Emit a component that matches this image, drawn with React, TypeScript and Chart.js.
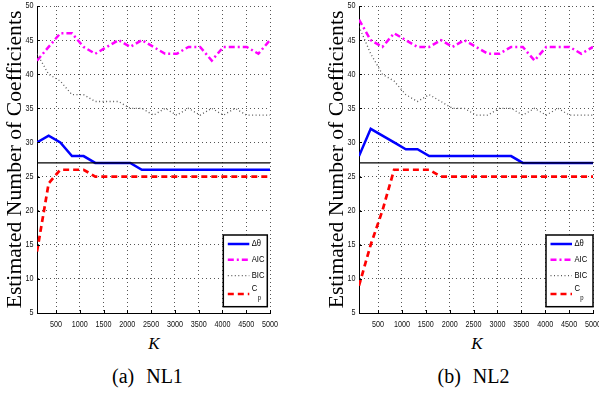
import React, { useEffect, useRef } from 'react';
import { Chart, registerables } from 'chart.js';

Chart.register(...registerables);

// ---- data ----
const K_VALUES = [100, 345, 590, 835, 1080, 1325, 1570, 1815, 2060, 2305, 2550, 2795, 3040, 3285, 3530, 3775, 4020, 4265, 4510, 4755, 5000];
const X_TICKS = [500, 1000, 1500, 2000, 2500, 3000, 3500, 4000, 4500, 5000];
const Y_TICKS = [5, 10, 15, 20, 25, 30, 35, 40, 45, 50];
const TRUE_COEFFS = 27;

const LABELS = ['Δθ', 'AIC', 'BIC', 'C_p'];

const NL1_DTHETA = [30, 31, 30, 28, 28, 27, 27, 27, 27, 26, 26, 26, 26, 26, 26, 26, 26, 26, 26, 26, 26];
const NL1_AIC = [42, 44, 46, 46, 44, 43, 44, 45, 44, 45, 44, 43, 43, 44, 44, 42, 44, 44, 44, 43, 45];
const NL1_BIC = [43, 40, 39, 37, 37, 36, 36, 36, 35, 35, 34, 35, 34, 35, 34, 35, 34, 35, 34, 34, 34];
const NL1_CP = [14, 24, 26, 26, 26, 25, 25, 25, 25, 25, 25, 25, 25, 25, 25, 25, 25, 25, 25, 25, 25];

const NL2_DTHETA = [28, 32, 31, 30, 29, 29, 28, 28, 28, 28, 28, 28, 28, 28, 27, 27, 27, 27, 27, 27, 27];
const NL2_AIC = [48, 45, 44, 46, 45, 44, 44, 45, 44, 45, 44, 43, 43, 44, 44, 42, 44, 44, 44, 43, 44];
const NL2_BIC = [47, 43, 40, 39, 37, 36, 37, 36, 35, 35, 34, 34, 35, 35, 34, 35, 34, 35, 34, 34, 34];
const NL2_CP = [9, 15, 20, 26, 26, 26, 26, 25, 25, 25, 25, 25, 25, 25, 25, 25, 25, 25, 25, 25, 25];

const Y_TITLE = 'Estimated Number of Coefficients';
const X_TITLE = 'K';
const CAPTION_A = ['(a)', 'NL1'];
const CAPTION_B = ['(b)', 'NL2'];

const TICK_FONT = "'Liberation Sans', Arial, sans-serif";
const SERIF = "'Liberation Serif', 'Times New Roman', serif";

type Box = { x: number; y: number; w: number; h: number };

const inwardTicks = {
  id: 'inwardTicks',
  afterDatasetsDraw(chart: any) {
    const { ctx, chartArea: ca, scales } = chart;
    ctx.save();
    ctx.strokeStyle = '#000';
    ctx.lineWidth = 1;
    ctx.setLineDash([]);
    ctx.beginPath();
    X_TICKS.forEach((v) => {
      const x = Math.round(scales.x.getPixelForValue(v)) + 0.5;
      ctx.moveTo(x, ca.bottom);
      ctx.lineTo(x, ca.bottom - 3);
    });
    Y_TICKS.forEach((v) => {
      const y = Math.round(scales.y.getPixelForValue(v)) + 0.5;
      ctx.moveTo(ca.left, y);
      ctx.lineTo(ca.left + 3, y);
    });
    ctx.stroke();
    ctx.restore();
  },
};

// narrow (horizontally compressed) tick labels, like the MATLAB figure
const tickLabels = {
  id: 'tickLabels',
  afterDraw(chart: any) {
    const { ctx, chartArea: ca, scales } = chart;
    const sx = 0.8;
    ctx.save();
    ctx.fillStyle = '#111';
    ctx.font = `9px ${TICK_FONT}`;
    ctx.textBaseline = 'middle';
    X_TICKS.forEach((v) => {
      const x = scales.x.getPixelForValue(v);
      ctx.save();
      ctx.translate(x, ca.bottom + 12);
      ctx.scale(sx, 1);
      ctx.textAlign = 'center';
      ctx.fillText(String(v), 0, 0);
      ctx.restore();
    });
    Y_TICKS.forEach((v) => {
      const y = scales.y.getPixelForValue(v);
      ctx.save();
      ctx.translate(ca.left - 3.4, y);
      ctx.scale(sx, 1);
      ctx.textAlign = 'right';
      ctx.fillText(String(v), 0, 0);
      ctx.restore();
    });
    ctx.restore();
  },
};

function makeLegend(box: Box) {
  return {
    id: 'boxLegend',
    afterDraw(chart: any) {
      const ctx = chart.ctx;
      ctx.save();
      ctx.setLineDash([]);
      ctx.fillStyle = '#fff';
      ctx.fillRect(box.x, box.y, box.w, box.h);
      ctx.strokeStyle = '#000';
      ctx.lineWidth = 1.5;
      ctx.strokeRect(box.x, box.y, box.w, box.h);
      const rows = [9, 24.7, 40.7, 59];
      const entries = chart.data.datasets.filter((d: any) => !d.hideInLegend);
      entries.forEach((ds: any, i: number) => {
        const y = box.y + rows[i];
        ctx.beginPath();
        ctx.strokeStyle = ds.borderColor;
        ctx.lineWidth = ds.borderWidth;
        ctx.setLineDash(ds.borderDash || []);
        ctx.moveTo(box.x + 4.5, y);
        ctx.lineTo(box.x + 26, y);
        ctx.stroke();
        ctx.setLineDash([]);
        ctx.fillStyle = '#000';
        ctx.textAlign = 'left';
        ctx.textBaseline = 'middle';
        const tx = box.x + 28.4;
        const [main, sub] = String(ds.label).split('_');
        ctx.save();
        ctx.translate(tx, y);
        ctx.scale(0.85, 1);
        ctx.font = `9px ${TICK_FONT}`;
        if (sub) {
          ctx.fillText(main, 0, -5.7);
          const w = ctx.measureText(main).width;
          ctx.font = `7px ${TICK_FONT}`;
          ctx.fillText(sub, w + 0.5, 4.3);
        } else {
          ctx.fillText(main, 0, 0);
        }
        ctx.restore();
      });
      ctx.restore();
    },
  };
}

type PanelProps = {
  dtheta: number[];
  aic: number[];
  bic: number[];
  cp: number[];
  left: number;
  width: number;
  rightPad: number;
  legendBox: Box;
};

const CANVAS_H = 330;

function Panel({ dtheta, aic, bic, cp, left, width, rightPad, legendBox }: PanelProps) {
  const ref = useRef<HTMLCanvasElement>(null);
  useEffect(() => {
    const canvas = ref.current!;
    const toXY = (arr: number[]) => K_VALUES.map((k, i) => ({ x: k, y: arr[i] }));
    const datasets: any[] = [
      { label: LABELS[0], data: toXY(dtheta), borderColor: '#0000ff', borderWidth: 2.5, borderDash: [], order: 4 },
      { label: LABELS[1], data: toXY(aic), borderColor: '#ff00ff', borderWidth: 2.5, borderDash: [6, 3, 2, 3], order: 3 },
      { label: LABELS[2], data: toXY(bic), borderColor: '#5a5a5a', borderWidth: 1.3, borderDash: [1, 2.5], order: 2 },
      { label: LABELS[3], data: toXY(cp), borderColor: '#ff0000', borderWidth: 2.7, borderDash: [6, 4], order: 1 },
      {
        label: 'true',
        hideInLegend: true,
        data: [
          { x: K_VALUES[0], y: TRUE_COEFFS },
          { x: K_VALUES[K_VALUES.length - 1], y: TRUE_COEFFS },
        ],
        borderColor: '#000000',
        borderWidth: 1.3,
        borderDash: [],
        order: 0,
      },
    ];
    const chart = new Chart(canvas, {
      type: 'line',
      data: { datasets },
      options: {
        responsive: false,
        maintainAspectRatio: false,
        animation: false,
        devicePixelRatio: 1,
        layout: { padding: { left: 0, top: 6, right: rightPad, bottom: 0 } },
        elements: { point: { radius: 0 }, line: { tension: 0, fill: false } },
        plugins: { legend: { display: false }, tooltip: { enabled: false } },
        scales: {
          x: {
            type: 'linear',
            min: 100,
            max: 5000,
            afterBuildTicks: (s: any) => {
              s.ticks = X_TICKS.map((v) => ({ value: v }));
            },
            afterFit: (s: any) => {
              s.height = CANVAS_H - 313;
              s.paddingLeft = 0;
              s.paddingRight = 0;
            },
            grid: { color: '#555', lineWidth: 1, drawTicks: false },
            border: { display: true, color: '#000', width: 1, dash: [1, 3] },
            ticks: { display: false },
          },
          y: {
            type: 'linear',
            min: 5,
            max: 50,
            afterBuildTicks: (s: any) => {
              s.ticks = Y_TICKS.map((v) => ({ value: v }));
            },
            afterFit: (s: any) => {
              s.width = 37;
              s.paddingTop = 0;
              s.paddingBottom = 0;
            },
            grid: { color: '#555', lineWidth: 1, drawTicks: false },
            border: { display: true, color: '#000', width: 1, dash: [1, 3] },
            ticks: { display: false },
            title: {
              display: true,
              text: Y_TITLE,
              color: '#000',
              font: { family: SERIF, size: 21.7 },
              padding: { top: 2, bottom: 0 },
            },
          },
        },
      },
      plugins: [inwardTicks, tickLabels, makeLegend(legendBox)],
    } as any);
    return () => chart.destroy();
  }, []);
  return (
    <canvas
      ref={ref}
      width={width}
      height={CANVAS_H}
      style={{ position: 'absolute', left, top: 0, width, height: CANVAS_H }}
    />
  );
}

function Caption({ parts, left }: { parts: string[]; left: number }) {
  return (
    <div
      style={{
        position: 'absolute',
        left,
        top: 365.5,
        whiteSpace: 'nowrap',
        font: `20px ${SERIF}`,
        lineHeight: '20px',
        color: '#000',
      }}
    >
      <span>{parts[0]}</span>
      <span style={{ marginLeft: 12 }}>{parts[1]}</span>
    </div>
  );
}

function XTitle({ center }: { center: number }) {
  return (
    <div
      style={{
        position: 'absolute',
        left: center - 20,
        width: 40,
        top: 334.7,
        textAlign: 'center',
        font: `italic 17px ${SERIF}`,
        lineHeight: '17px',
        color: '#000',
      }}
    >
      {X_TITLE}
    </div>
  );
}

export default function App() {
  return (
    <div
      style={{
        position: 'absolute',
        left: 0,
        top: 0,
        width: 599,
        height: 396,
        overflow: 'hidden',
        background: '#fff',
      }}
    >
      <Panel
        dtheta={NL1_DTHETA}
        aic={NL1_AIC}
        bic={NL1_BIC}
        cp={NL1_CP}
        left={0}
        width={300}
        rightPad={30}
        legendBox={{ x: 223.3, y: 235, w: 44, h: 71.7 }}
      />
      <Panel
        dtheta={NL2_DTHETA}
        aic={NL2_AIC}
        bic={NL2_BIC}
        cp={NL2_CP}
        left={322}
        width={277}
        rightPad={6}
        legendBox={{ x: 224, y: 235, w: 47, h: 71.7 }}
      />
      <XTitle center={154} />
      <XTitle center={477} />
      <Caption parts={CAPTION_A} left={112} />
      <Caption parts={CAPTION_B} left={437.5} />
    </div>
  );
}
